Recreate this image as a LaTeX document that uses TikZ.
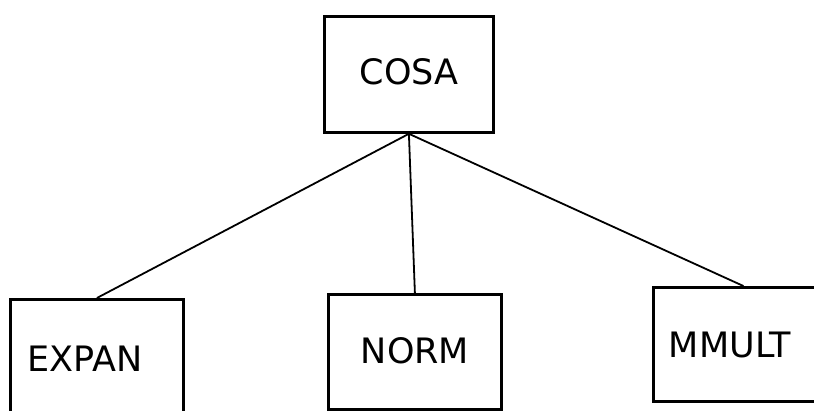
\documentclass[tikz,border=0pt]{standalone}
\usepackage{fontspec}
\setmainfont{DejaVu Sans}
\begin{document}
\begin{tikzpicture}[x=1pt,y=-1pt,
  boxnode/.style={draw, line width=2.8pt, inner sep=0pt, anchor=north west},
  lbl/.style={font=\fontsize{35}{40}\selectfont, inner sep=0pt},
  conn/.style={line width=1.8pt}]
\useasboundingbox (0,0) rectangle (814,410);
\clip (0,0) rectangle (814,410);
\node[boxnode, minimum width=169pt, minimum height=116pt] (cosa) at (323,15) {};
\node[boxnode, minimum width=173pt, minimum height=125pt] (expan) at (9,298) {};
\node[boxnode, minimum width=173pt, minimum height=115pt] (norm) at (327,293) {};
\node[boxnode, minimum width=180pt, minimum height=114pt] (mmult) at (652,286) {};
\node[lbl] (tcosa) at (409,72) {COSA};
\node[lbl] (texpan) at (85,359) {EXPAN};
\node[lbl] (tnorm) at (415,351) {NORM};
\node[lbl] (tmmult) at (730,345) {MMULT};
\draw[conn] (cosa.south) -- (expan.north);
\draw[conn] (cosa.south) -- (norm.north);
\draw[conn] (cosa.south) -- (mmult.north);
\end{tikzpicture}
\end{document}
